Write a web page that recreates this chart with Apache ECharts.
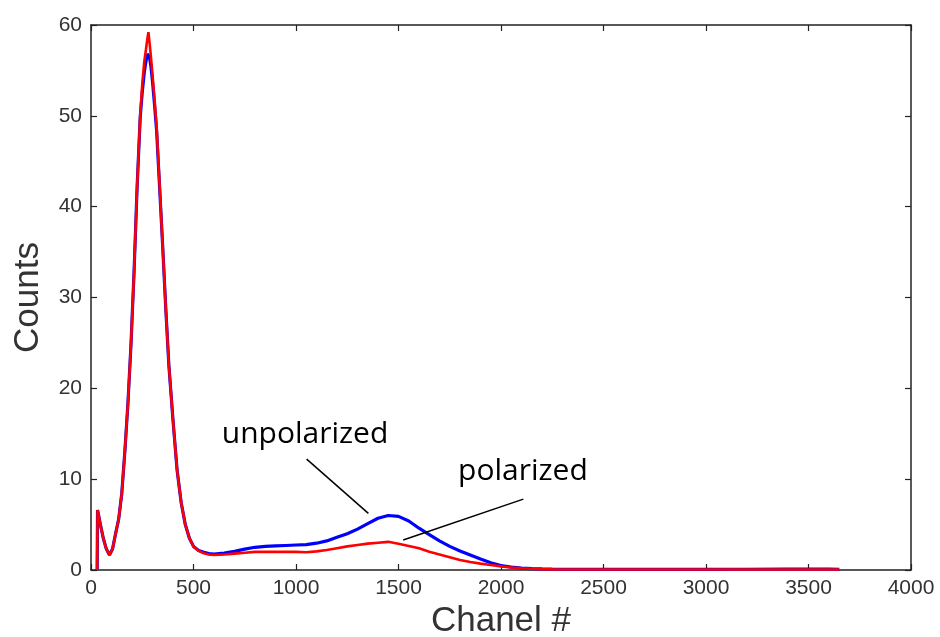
<!DOCTYPE html>
<html>
<head>
<meta charset="utf-8">
<script src="https://cdn.jsdelivr.net/npm/echarts@6/dist/echarts.min.js"></script>
<style>html,body{margin:0;padding:0;background:#fff}#c{width:940px;height:637px}</style>
</head>
<body>
<div id="c"></div>
<script>
const channels = [30, 32, 45, 60, 75, 90, 105, 120, 135, 150, 165, 180, 195, 210, 225, 240, 250, 260, 268, 275, 280, 285, 292, 300, 310, 320, 335, 350, 365, 380, 400, 420, 440, 460, 480, 500, 525, 550, 575, 600, 650, 700, 750, 800, 850, 900, 950, 1000, 1050, 1100, 1150, 1200, 1250, 1300, 1350, 1400, 1450, 1500, 1550, 1600, 1650, 1700, 1750, 1800, 1850, 1900, 1950, 2000, 2050, 2100, 2150, 2200, 2250, 2300, 2400, 2600, 2800, 3000, 3200, 3400, 3600, 3650];
const unpolarized = [0, 6.6, 5.1, 3.5, 2.3, 1.65, 2.3, 4.0, 5.6, 8.4, 13.0, 18.3, 24.8, 32.8, 42.2, 49.8, 52.6, 54.8, 56.0, 56.8, 57.0, 56.5, 55.5, 53.8, 51.2, 48.4, 42.0, 35.5, 28.7, 22.5, 16.5, 11.0, 7.4, 5.0, 3.5, 2.6, 2.15, 1.95, 1.8, 1.75, 1.85, 2.05, 2.3, 2.5, 2.6, 2.65, 2.7, 2.75, 2.8, 2.95, 3.2, 3.6, 4.0, 4.5, 5.1, 5.7, 6.0, 5.9, 5.4, 4.6, 3.9, 3.2, 2.6, 2.1, 1.65, 1.2, 0.8, 0.5, 0.32, 0.22, 0.16, 0.12, 0.09, 0.07, 0.06, 0.06, 0.06, 0.07, 0.08, 0.1, 0.1, 0.08];
const polarized = [0, 6.6, 5.1, 3.5, 2.3, 1.65, 2.3, 4.0, 5.6, 8.4, 13.0, 18.3, 24.8, 32.8, 42.2, 50.0, 53.5, 56.0, 57.3, 58.5, 59.2, 58.2, 56.6, 54.5, 51.8, 48.8, 42.2, 35.5, 28.7, 22.5, 16.5, 11.0, 7.4, 5.0, 3.5, 2.6, 2.1, 1.85, 1.7, 1.65, 1.7, 1.8, 1.9, 2.0, 2.0, 2.0, 2.0, 2.0, 1.95, 2.05, 2.2, 2.4, 2.6, 2.75, 2.9, 3.0, 3.1, 2.9, 2.65, 2.4, 2.0, 1.7, 1.4, 1.1, 0.88, 0.7, 0.55, 0.4, 0.28, 0.2, 0.14, 0.1, 0.07, 0.06, 0.05, 0.05, 0.05, 0.05, 0.05, 0.05, 0.05, 0.05];
const xTicks = [0, 500, 1000, 1500, 2000, 2500, 3000, 3500, 4000];
const yTicks = [0, 10, 20, 30, 40, 50, 60];
const annotations = [
  {text: 'unpolarized', label: [1044, 14.9], from: [1052, 12.2], to: [1353, 6.24]},
  {text: 'polarized', label: [2107, 10.8], from: [2109, 7.8], to: [1523, 3.3]}
];

const chart = echarts.init(document.getElementById('c'));
const tickFont = {fontFamily: 'Liberation Sans, Arial, sans-serif', fontSize: 21, color: '#333'};
const nameFont = {fontFamily: 'Liberation Sans, Arial, sans-serif', fontSize: 35, color: '#333'};
const baseX = {
  type: 'value', min: xTicks[0], max: xTicks[xTicks.length - 1], interval: 500,
  axisLine: {show: true, onZero: false, lineStyle: {color: '#222', width: 1.5}},
  axisTick: {show: true, inside: true, length: 6, lineStyle: {color: '#222', width: 1.2}},
  splitLine: {show: false}
};
const baseY = {
  type: 'value', min: yTicks[0], max: yTicks[yTicks.length - 1], interval: 10,
  axisLine: {show: true, onZero: false, lineStyle: {color: '#222', width: 1.5}},
  axisTick: {show: true, inside: true, length: 6, lineStyle: {color: '#222', width: 1.2}},
  splitLine: {show: false}
};
chart.setOption({
  animation: false,
  backgroundColor: '#fff',
  grid: {left: 91, right: 29, top: 25, bottom: 67, containLabel: false, outerBoundsMode: 'none'},
  xAxis: [
    Object.assign({}, baseX, {position: 'bottom', name: 'Chanel #', nameLocation: 'middle', nameGap: 33,
      nameTextStyle: nameFont,
      axisLabel: Object.assign({margin: 8, formatter: v => String(v)}, tickFont)}),
    Object.assign({}, baseX, {position: 'top', axisLabel: {show: false}})
  ],
  yAxis: [
    Object.assign({}, baseY, {position: 'left', name: 'Counts', nameLocation: 'middle', nameGap: 45,
      nameTextStyle: nameFont,
      axisLabel: Object.assign({margin: 9, formatter: v => String(v)}, tickFont)}),
    Object.assign({}, baseY, {position: 'right', axisLabel: {show: false}})
  ],
  series: [
    {name: 'unpolarized', type: 'line', showSymbol: false, symbol: 'none',
      data: channels.map((c, i) => [c, unpolarized[i]]),
      lineStyle: {color: '#0000ff', width: 3.2}, z: 2},
    {name: 'polarized', type: 'line', showSymbol: false, symbol: 'none',
      data: channels.map((c, i) => [c, polarized[i]]),
      lineStyle: {color: '#ff0000', width: 2.6}, z: 3,
      markLine: {silent: true, symbol: 'none', animation: false,
        lineStyle: {color: '#000', width: 1.5, type: 'solid'}, label: {show: false},
        data: annotations.map(a => [{coord: a.from}, {coord: a.to}])}}
  ]
});
const elements = annotations.map(a => {
  const p = chart.convertToPixel({xAxisIndex: 0, yAxisIndex: 0}, a.label);
  return {type: 'text', x: p[0], y: p[1], style: {text: a.text, fontFamily: 'Open Sans, Noto Sans, sans-serif', fontSize: 30, fill: '#000', align: 'center', verticalAlign: 'middle'}, z: 10};
});
chart.setOption({graphic: elements});
</script>
</body>
</html>
